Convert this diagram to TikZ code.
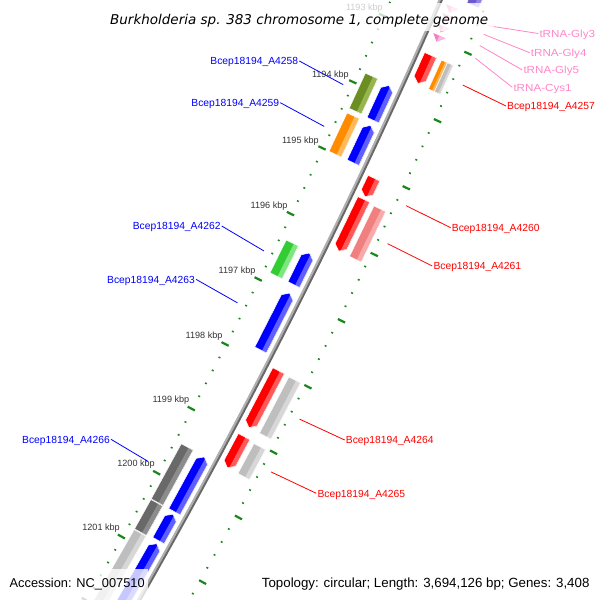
\documentclass[tikz,border=0pt]{standalone}
\usepackage{fontspec}
\setmainfont{Liberation Sans}
\newfontfamily\titlefont{DejaVu Sans}
\newfontfamily\trnafont[FakeStretch=1.13]{Liberation Sans}
\definecolor{rgreen}{RGB}{25,135,25}
\definecolor{cblue}{RGB}{0,0,255}\definecolor{cbluel}{RGB}{95,95,255}
\definecolor{colive}{RGB}{107,142,35}\definecolor{colivel}{RGB}{150,180,80}
\definecolor{corange}{RGB}{255,140,0}\definecolor{corangel}{RGB}{255,185,90}
\definecolor{clime}{RGB}{50,205,50}\definecolor{climel}{RGB}{125,230,125}
\definecolor{cdgray}{RGB}{105,105,105}\definecolor{cdgrayl}{RGB}{140,140,140}
\definecolor{clgray}{RGB}{190,190,190}\definecolor{clgrayl}{RGB}{215,215,215}
\definecolor{cred}{RGB}{255,0,0}\definecolor{credl}{RGB}{255,90,90}
\definecolor{ccoral}{RGB}{240,128,128}\definecolor{ccorall}{RGB}{248,170,170}
\definecolor{cslate}{RGB}{106,90,205}\definecolor{cslatel}{RGB}{145,130,230}
\definecolor{ctrna}{RGB}{240,130,195}\definecolor{ctrnal}{RGB}{250,185,220}
\definecolor{trnatext}{RGB}{255,135,200}
\definecolor{kbpgray}{RGB}{50,50,50}
\definecolor{bblight}{RGB}{175,175,175}\definecolor{bbdark}{RGB}{105,105,105}
\def\hdl{0.07}
\tikzset{
  dotst/.style={line width=1.5pt, draw=rgreen},
  dashst/.style={line width=2.2pt, draw=rgreen},
  sep/.style={draw=white, line width=0.5pt},
  genelab/.style={font=\fontsize{10.3}{12}\selectfont, inner sep=1pt, text height=7.4pt, text depth=0pt},
  trnalab/.style={font=\trnafont\fontsize{10.3}{12}\selectfont, text=trnatext, inner sep=1pt, text height=7.4pt, text depth=0pt, anchor=west},
  kbplab/.style={font=\fontsize{9.1}{11}\selectfont, text=kbpgray, inner sep=0pt, text height=6.5pt, text depth=0pt, anchor=east},
  lead/.style={line width=0.8pt},
}
\newcommand\featbox[6]{%
 \fill[#5] ({px(#1,#3)},{py(#1,#3)}) -- ({px(#2,#3)},{py(#2,#3)}) -- ({px(#2,#4)},{py(#2,#4)}) -- ({px(#1,#4)},{py(#1,#4)}) -- cycle;
 \fill[#6] ({px(#1,0.38*(#3)+0.62*(#4))},{py(#1,0.38*(#3)+0.62*(#4))}) -- ({px(#2,0.38*(#3)+0.62*(#4))},{py(#2,0.38*(#3)+0.62*(#4))}) -- ({px(#2,#4)},{py(#2,#4)}) -- ({px(#1,#4)},{py(#1,#4)}) -- cycle;
 \draw[sep] ({px(#1,#3)},{py(#1,#3)}) -- ({px(#2,#3)},{py(#2,#3)}) -- ({px(#2,#4)},{py(#2,#4)}) -- ({px(#1,#4)},{py(#1,#4)}) -- cycle;
}
\newcommand\featD[6]{%
 \begin{scope}
 \clip ({px(#1,#3)},{py(#1,#3)}) -- ({px(#2-\hdl,#3)},{py(#2-\hdl,#3)}) -- ({px(#2,0.5*(#3)+0.5*(#4))},{py(#2,0.5*(#3)+0.5*(#4))}) -- ({px(#2-\hdl,#4)},{py(#2-\hdl,#4)}) -- ({px(#1,#4)},{py(#1,#4)}) -- cycle;
 \fill[#5] ({px(#1-0.1,#3-2)},{py(#1-0.1,#3-2)}) -- ({px(#2+0.1,#3-2)},{py(#2+0.1,#3-2)}) -- ({px(#2+0.1,#4+2)},{py(#2+0.1,#4+2)}) -- ({px(#1-0.1,#4+2)},{py(#1-0.1,#4+2)}) -- cycle;
 \fill[#6] ({px(#1-0.1,0.38*(#3)+0.62*(#4))},{py(#1-0.1,0.38*(#3)+0.62*(#4))}) -- ({px(#2+0.1,0.38*(#3)+0.62*(#4))},{py(#2+0.1,0.38*(#3)+0.62*(#4))}) -- ({px(#2+0.1,#4+2)},{py(#2+0.1,#4+2)}) -- ({px(#1-0.1,#4+2)},{py(#1-0.1,#4+2)}) -- cycle;
 \end{scope}
 \draw[sep] ({px(#1,#3)},{py(#1,#3)}) -- ({px(#2-\hdl,#3)},{py(#2-\hdl,#3)}) -- ({px(#2,0.5*(#3)+0.5*(#4))},{py(#2,0.5*(#3)+0.5*(#4))}) -- ({px(#2-\hdl,#4)},{py(#2-\hdl,#4)}) -- ({px(#1,#4)},{py(#1,#4)}) -- cycle;
}
\newcommand\featU[6]{%
 \begin{scope}
 \clip ({px(#1,0.5*(#3)+0.5*(#4))},{py(#1,0.5*(#3)+0.5*(#4))}) -- ({px(#1+\hdl,#4)},{py(#1+\hdl,#4)}) -- ({px(#2,#4)},{py(#2,#4)}) -- ({px(#2,#3)},{py(#2,#3)}) -- ({px(#1+\hdl,#3)},{py(#1+\hdl,#3)}) -- cycle;
 \fill[#5] ({px(#1-0.1,#3-2)},{py(#1-0.1,#3-2)}) -- ({px(#2+0.1,#3-2)},{py(#2+0.1,#3-2)}) -- ({px(#2+0.1,#4+2)},{py(#2+0.1,#4+2)}) -- ({px(#1-0.1,#4+2)},{py(#1-0.1,#4+2)}) -- cycle;
 \fill[#6] ({px(#1-0.1,0.38*(#3)+0.62*(#4))},{py(#1-0.1,0.38*(#3)+0.62*(#4))}) -- ({px(#2+0.1,0.38*(#3)+0.62*(#4))},{py(#2+0.1,0.38*(#3)+0.62*(#4))}) -- ({px(#2+0.1,#4+2)},{py(#2+0.1,#4+2)}) -- ({px(#1-0.1,#4+2)},{py(#1-0.1,#4+2)}) -- cycle;
 \end{scope}
 \draw[sep] ({px(#1,0.5*(#3)+0.5*(#4))},{py(#1,0.5*(#3)+0.5*(#4))}) -- ({px(#1+\hdl,#4)},{py(#1+\hdl,#4)}) -- ({px(#2,#4)},{py(#2,#4)}) -- ({px(#2,#3)},{py(#2,#3)}) -- ({px(#1+\hdl,#3)},{py(#1+\hdl,#3)}) -- cycle;
}
\newcommand\trnafeat[2]{%
 \fill[ctrna] ({px(#1,6.5)},{py(#1,6.5)}) -- ({px(#2,13)},{py(#2,13)}) -- ({px(#1,19.5)},{py(#1,19.5)}) -- cycle;
 \fill[ctrnal] ({px(#1,13)},{py(#1,13)}) -- ({px(#2,13)},{py(#2,13)}) -- ({px(#1,19.5)},{py(#1,19.5)}) -- cycle;
}
\begin{document}
\begin{tikzpicture}[x=1pt,y=-1pt,
  declare function={
    ss(\q)=73.45*(\q-1197);
    aa(\q,\w)=\w-(ss(\q)/112.25)*(ss(\q)/112.25)*(1+\w/6300);
    bb(\q,\w)=ss(\q)*(1+\w/6300)-ss(\q)*(ss(\q)/15432)*(ss(\q)/15432);
    px(\q,\w)=300+0.89376*aa(\q,\w)-0.44847*bb(\q,\w);
    py(\q,\w)=300+0.44847*aa(\q,\w)+0.89376*bb(\q,\w);
  }]
\useasboundingbox (0,0) rectangle (600,600);
\fill[white] (0,0) rectangle (600,600);
\clip (0,0) rectangle (600,600);

% rulers
\foreach \k in {1191,...,1202}{
  \foreach \j in {0.2,0.4,0.6,0.8}{
    \draw[dotst] ({px(\k+\j,-46.6)},{py(\k+\j,-46.6)}) -- ({px(\k+\j,-44.6)},{py(\k+\j,-44.6)});
    \draw[dotst] ({px(\k+\j,42.5)},{py(\k+\j,42.5)}) -- ({px(\k+\j,44.5)},{py(\k+\j,44.5)});
  }
  \draw[dashst] ({px(\k,-50.8)},{py(\k,-50.8)}) -- ({px(\k,-42.8)},{py(\k,-42.8)});
  \draw[dashst] ({px(\k,42.4)},{py(\k,42.4)}) -- ({px(\k,50.4)},{py(\k,50.4)});
}

% backbone
\draw[bblight, line width=2.2pt] plot[domain=1191.3:1203, samples=40] ({px(\x,-1.1)},{py(\x,-1.1)});
\draw[bbdark, line width=2pt] plot[domain=1191.3:1203, samples=40] ({px(\x,1.0)},{py(\x,1.0)});

% outer COG track
\featbox{1191.9}{1192.38}{25}{38}{cslate}{cslatel}
\featbox{1193.23}{1193.66}{25}{31.5}{corange}{corangel}
\featbox{1193.23}{1193.66}{31.5}{38}{clgray}{clgrayl}
\featbox{1195.41}{1196.17}{25}{38}{ccoral}{ccorall}
\featbox{1198.0}{1198.86}{25}{38}{clgray}{clgrayl}
\featbox{1199.02}{1199.48}{25}{38}{clgray}{clgrayl}

% forward genes
\featD{1193.23}{1193.65}{6.5}{19.5}{cred}{credl}
\featD{1195.07}{1195.35}{6.5}{19.5}{cred}{credl}
\featD{1195.39}{1196.17}{6.5}{19.5}{cred}{credl}
\featD{1197.99}{1198.86}{6.5}{19.5}{cred}{credl}
\featD{1199.0}{1199.48}{6.5}{19.5}{cred}{credl}

% tRNAs
\trnafeat{1192.51}{1192.6}
\trnafeat{1192.64}{1192.73}
\trnafeat{1192.80}{1192.89}
\trnafeat{1192.94}{1193.03}

% inner COG track
\featbox{1193.82}{1194.35}{-39}{-25.5}{colive}{colivel}
\featbox{1194.42}{1195.0}{-39}{-25.5}{corange}{corangel}
\featbox{1196.35}{1196.85}{-39}{-25.5}{clime}{climel}
\featbox{1199.49}{1200.35}{-39}{-25.5}{cdgray}{cdgrayl}
\featbox{1200.36}{1200.82}{-39}{-25.5}{cdgray}{cdgrayl}
\featbox{1200.83}{1202.4}{-39}{-25.5}{clgray}{clgrayl}

% reverse genes
\featU{1193.84}{1194.36}{-19}{-6}{cblue}{cbluel}
\featU{1194.44}{1195.0}{-19}{-6}{cblue}{cbluel}
\featU{1196.37}{1196.85}{-19}{-6}{cblue}{cbluel}
\featU{1196.98}{1197.85}{-19}{-6}{cblue}{cbluel}
\featU{1199.5}{1200.35}{-19}{-6}{cblue}{cbluel}
\featU{1200.39}{1200.8}{-19}{-6}{cblue}{cbluel}
\featU{1200.85}{1202.4}{-19}{-6}{cblue}{cbluel}

% leader anchors
\coordinate (g4257) at ({px(1193.42,54.6)},{py(1193.42,54.6)});
\coordinate (g4258) at ({px(1194.09,-54.5)},{py(1194.09,-54.5)});
\coordinate (g4259) at ({px(1194.72,-54)},{py(1194.72,-54)});
\coordinate (g4260) at ({px(1195.22,54)},{py(1195.22,54)});
\coordinate (g4261) at ({px(1195.79,53.5)},{py(1195.79,53.5)});
\coordinate (g4262) at ({px(1196.62,-54.2)},{py(1196.62,-54.2)});
\coordinate (g4263) at ({px(1197.42,-54.5)},{py(1197.42,-54.5)});
\coordinate (g4264) at ({px(1198.44,54)},{py(1198.44,54)});
\coordinate (g4265) at ({px(1199.25,53.4)},{py(1199.25,53.4)});
\coordinate (g4266) at ({px(1199.92,-60)},{py(1199.92,-60)});
\coordinate (tg3) at ({px(1192.55,53.5)},{py(1192.55,53.5)});
\coordinate (tg4) at ({px(1192.68,53.2)},{py(1192.68,53.2)});
\coordinate (tg5) at ({px(1192.84,54)},{py(1192.84,54)});
\coordinate (tc1) at ({px(1193.02,55)},{py(1193.02,55)});

% gene labels
\node[genelab, text=cred, anchor=west] (l4257) at (506,106) {Bcep18194\_A4257};
\node[genelab, text=cblue, anchor=east] (l4258) at (299.3,61) {Bcep18194\_A4258};
\node[genelab, text=cblue, anchor=east] (l4259) at (280.3,102.7) {Bcep18194\_A4259};
\node[genelab, text=cred, anchor=west] (l4260) at (450.7,227.7) {Bcep18194\_A4260};
\node[genelab, text=cred, anchor=west] (l4261) at (432.3,266) {Bcep18194\_A4261};
\node[genelab, text=cblue, anchor=east] (l4262) at (221.7,226) {Bcep18194\_A4262};
\node[genelab, text=cblue, anchor=east] (l4263) at (196,279.3) {Bcep18194\_A4263};
\node[genelab, text=cred, anchor=west] (l4264) at (344.7,440) {Bcep18194\_A4264};
\node[genelab, text=cred, anchor=west] (l4265) at (316.3,493.3) {Bcep18194\_A4265};
\node[genelab, text=cblue, anchor=east] (l4266) at (111,439.3) {Bcep18194\_A4266};
\node[trnalab] (lg3) at (538.3,33.5) {tRNA-Gly3};
\node[trnalab] (lg4) at (529.7,52.7) {tRNA-Gly4};
\node[trnalab] (lg5) at (522.3,70) {tRNA-Gly5};
\node[trnalab] (lc1) at (512.3,87.3) {tRNA-Cys1};

\draw[lead, cred] (g4257) -- (l4257.west);
\draw[lead, cblue] (g4258) -- (l4258.east);
\draw[lead, cblue] (g4259) -- (l4259.east);
\draw[lead, cred] (g4260) -- (l4260.west);
\draw[lead, cred] (g4261) -- (l4261.west);
\draw[lead, cblue] (g4262) -- (l4262.east);
\draw[lead, cblue] (g4263) -- (l4263.east);
\draw[lead, cred] (g4264) -- (l4264.west);
\draw[lead, cred] (g4265) -- (l4265.west);
\draw[lead, cblue] (g4266) -- (l4266.east);
\draw[lead, trnatext] (tg3) -- (lg3.west);
\draw[lead, trnatext] (tg4) -- (lg4.west);
\draw[lead, trnatext] (tg5) -- (lg5.west);
\draw[lead, trnatext] (tc1) -- (lc1.west);

% kbp labels
\node[kbplab] (k1193) at (383,7.5) {1193 kbp};
\node[kbplab] (k1194) at (349,74) {1194 kbp};
\node[kbplab] (k1195) at (319,140) {1195 kbp};
\node[kbplab] (k1196) at (287.7,205) {1196 kbp};
\node[kbplab] (k1197) at (255.7,270) {1197 kbp};
\node[kbplab] (k1198) at (222.7,335) {1198 kbp};
\node[kbplab] (k1199) at (189.5,399.5) {1199 kbp};
\node[kbplab] (k1200) at (155,463.3) {1200 kbp};
\node[kbplab] (k1201) at (120,527.3) {1201 kbp};

% caption boxes and texts
\fill[white, opacity=0.76] (105,3) rectangle (494,31);
\node[font=\titlefont\itshape\fontsize{13.5}{16}\selectfont, anchor=base, inner sep=0pt] (title) at (299.2,24.3) {Burkholderia sp. 383 chromosome 1, complete genome};
\fill[white, opacity=0.78] (5,569) rectangle (148,600);
\node[font=\fontsize{12.8}{15}\selectfont, anchor=base west, inner sep=0pt] (acc) at (9.5,587.7) {Accession: NC\_007510};
\node[font=\fontsize{13.3}{15}\selectfont, anchor=base west, inner sep=0pt] (topo) at (261.7,587.5) {Topology: circular; Length: 3,694,126 bp; Genes: 3,408};
\end{tikzpicture}
\end{document}
